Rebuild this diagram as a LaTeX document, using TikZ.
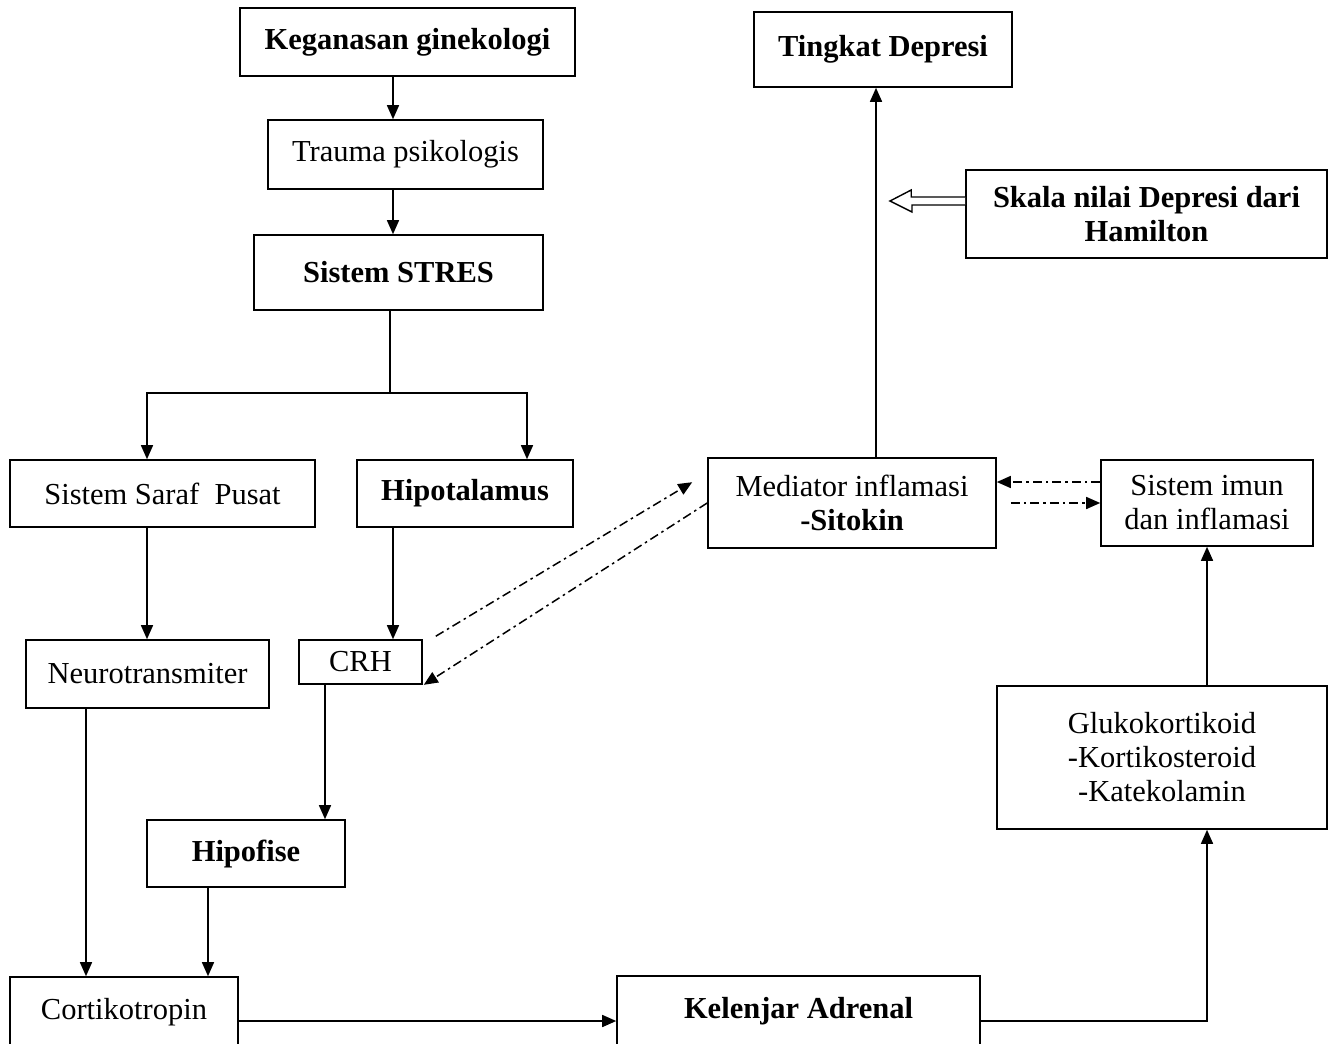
\documentclass[tikz,border=0pt]{standalone}
\usepackage{fontspec}
\setmainfont{Liberation Serif}
\usetikzlibrary{arrows.meta}

\begin{document}
\begin{tikzpicture}[x=1pt,y=-1pt,
    box/.style={draw,line width=1.6pt,inner sep=0pt,align=center,
        font=\fontsize{30.5}{34}\selectfont},
    bbox/.style={box,font=\fontsize{30.5}{34}\selectfont\bfseries},
    arr/.style={line width=1.5pt,-{Triangle[length=14pt,width=12pt]}},
    dd/.style={arr,dash pattern=on 9pt off 4pt on 2.5pt off 4pt},
    hollow/.style={line width=1.4pt,fill=white,line join=miter}]
    \useasboundingbox (0,0) rectangle (1329,1043);
    % left column
    \node[bbox,minimum width=335,minimum height=68] (keg) at (407.5,42) {Keganasan ginekologi};
    \node[box,minimum width=275,minimum height=69] (trauma) at (405.5,154.5) {Trauma psikologis};
    \node[bbox,minimum width=289,minimum height=75] (stres) at (398.5,272.5) {Sistem STRES};
    \node[box,minimum width=305,minimum height=67] (saraf) at (162.5,493.5) {Sistem Saraf\ \ Pusat};
    \node[bbox,minimum width=216,minimum height=67] (hipo) at (465,493.5) {Hipotalamus};
    \node[box,minimum width=243,minimum height=68] (neuro) at (147.5,674) {Neurotransmiter};
    \node[box,minimum width=123,minimum height=44] (crh) at (360.5,662) {CRH};
    \node[bbox,minimum width=198,minimum height=67] (hipof) at (246,853.5) {Hipofise};
    \node[box,minimum width=228,minimum height=70] (cort) at (124,1012) {Cortikotropin};
    \node[bbox,minimum width=363,minimum height=70] (kel) at (798.5,1011) {Kelenjar Adrenal};
    % right column
    \node[box,minimum width=330,minimum height=143] (gluk) at (1162,757.5) {Glukokortikoid\\-Kortikosteroid\\-Katekolamin};
    \node[box,minimum width=212,minimum height=86] (imun) at (1207,503) {Sistem imun\\dan inflamasi};
    \node[box,minimum width=288,minimum height=90] (med) at (852,503) {Mediator inflamasi\\\textbf{-Sitokin}};
    \node[bbox,minimum width=258,minimum height=75] (ting) at (883,49.5) {Tingkat Depresi};
    \node[bbox,minimum width=361,minimum height=88] (skala) at (1146.5,214) {Skala nilai Depresi dari\\Hamilton};
    \coordinate (split) at (390,393);
    \coordinate (hol) at (890,201);

    \draw[arr] ([xshift=-14.5]keg.south) -- ([xshift=-14.5]keg.south |- trauma.north);
    \draw[arr] ([xshift=-12.5]trauma.south) -- ([xshift=-12.5]trauma.south |- stres.north);
    \draw[line width=1.5pt] ([xshift=-8.5]stres.south) -- (split);
    \draw[arr] (split) -| ([xshift=-15.5]saraf.north);
    \draw[arr] (split) -| ([xshift=62]hipo.north);
    \draw[arr] ([xshift=-72]hipo.south) -- ([xshift=-72]hipo.south |- crh.north);
    \draw[arr] ([xshift=-15.5]saraf.south) -- ([xshift=-15.5]saraf.south |- neuro.north);
    \draw[arr] ([xshift=-35.5]crh.south) -- ([xshift=-35.5]crh.south |- hipof.north);
    \draw[arr] ([xshift=-61.5]neuro.south) -- ([xshift=-61.5]neuro.south |- cort.north);
    \draw[arr] ([xshift=-38]hipof.south) -- ([xshift=-38]hipof.south |- cort.north);
    \draw[arr] ([yshift=-9]cort.east) -- ([yshift=-9]cort.east -| kel.west);
    \draw[arr] ([yshift=-10]kel.east) -| ([xshift=45]gluk.south);
    \draw[arr] ([xshift=45]gluk.north) -- (imun.south);
    \draw[arr] ([xshift=24]med.north) -- ([xshift=24]med.north |- ting.south);
    % hollow arrow from the scale
    \draw[hollow] ([yshift=17]skala.west) -- ++(-54,0) -- ++(0,-7) -- (hol)
        -- ++(22,11) -- ++(0,-7) -- ([yshift=9]skala.west);
    % dash-dot links
    \draw[dd] ([xshift=13,yshift=3]crh.north east) -- ([xshift=-15,yshift=-25]med.north west);
    \draw[dd] (med.west) -- ([xshift=1]crh.south east);
    \draw[dd] ([yshift=21]imun.west) -- ([yshift=21]med.east);
    \draw[dd] ([xshift=14]med.east) -- (imun.west);
\end{tikzpicture}
\end{document}
